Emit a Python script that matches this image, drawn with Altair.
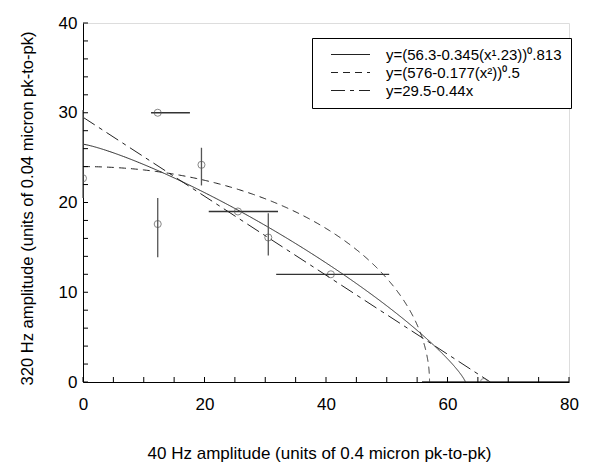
import altair as alt
import numpy as np
import pandas as pd

# measured points (x, y) with error bar extents
pt_x = [0.0, 12.3, 12.3, 19.5, 25.5, 30.5, 40.8, 66.0]
pt_y = [22.7, 30.0, 17.6, 24.2, 19.0, 16.1, 12.0, 0.0]
# vertical error bars (x, y_low, y_high)
vx = [0.0, 12.3, 19.5, 30.5]
vlo = [20.5, 13.9, 21.9, 14.1]
vhi = [30.3, 20.5, 26.1, 18.8]
# horizontal error bars (y, x_low, x_high)
hy = [30.0, 19.0, 12.0, 0.0]
hlo = [11.2, 20.7, 31.8, 55.8]
hhi = [17.6, 32.1, 50.4, 80.0]

labels = ["y=(56.3-0.345(x\u00b9.23))\u2070.813",
          "y=(576-0.177(x\u00b2))\u2070.5",
          "y=29.5-0.44x"]
# fit coefficients from the legend
c1 = [56.3, 0.345, 1.23, 0.813]
c2 = [576.0, 0.177, 2.0, 0.5]
c3 = [29.5, 0.44]

x_ticks = list(range(0, 81, 5))
y_ticks = list(range(0, 41, 2))

def curve(a, b, p, q, name):
    xz = (a / b) ** (1.0 / p)
    t = np.linspace(0, 1, 600)
    xs = xz * (1 - (1 - t) ** 3)
    ys = np.clip(a - b * xs ** p, 0, None) ** q
    return pd.DataFrame({"x": xs, "y": ys, "fit": name, "order": np.arange(len(xs))})

xz3 = c3[0] / c3[1]
df3 = pd.DataFrame({"x": [0, xz3], "y": [c3[0], 0], "fit": labels[2], "order": [0, 1]})
curves = pd.concat([curve(*c1, labels[0]), curve(*c2, labels[1]), df3])

pts = pd.DataFrame({"x": pt_x, "y": pt_y})
vbars = pd.DataFrame({"x": vx, "lo": vlo, "hi": vhi})
hbars = pd.DataFrame({"y": hy, "lo": hlo, "hi": hhi})

W, H = 486, 359
xs = alt.Scale(domain=[0, 80], nice=False)
ys = alt.Scale(domain=[0, 40], nice=False)
font = "Liberation Sans"

xaxis = alt.Axis(values=[0, 20, 40, 60, 80], ticks=False, grid=False, labelFontSize=17,
                 labelPadding=14, domainColor="black", labelColor="black", labelFont=font,
                 title="40 Hz amplitude (units of 0.4 micron pk-to-pk)", titleFont=font,
                 titleFontSize=17, titleFontWeight="normal", titleX=236, titleY=71,
                 titleAnchor="middle", titleAlign="center", titleBaseline="middle",
                 titleColor="black", labelFlush=False)
yaxis = alt.Axis(values=[0, 10, 20, 30, 40], ticks=False, grid=False, labelFontSize=17,
                 labelPadding=6, domainColor="black", labelColor="black", labelFont=font,
                 title="320 Hz amplitude (units of 0.04 micron pk-to-pk)", titleFont=font,
                 titleFontSize=16.6, titleFontWeight="normal", titleX=-56, titleY=185,
                 titleAngle=-90, titleAlign="center", titleBaseline="middle",
                 titleColor="black", labelFlush=False)

lines = alt.Chart(curves).mark_line(color="#222", strokeWidth=1, clip=True).encode(
    x=alt.X("x:Q", scale=xs, axis=xaxis),
    y=alt.Y("y:Q", scale=ys, axis=yaxis),
    order="order:Q",
    strokeDash=alt.StrokeDash("fit:N", scale=alt.Scale(domain=labels,
                              range=[[1, 0], [7, 5], [14, 5, 4, 5]]),
                              legend=alt.Legend(title=None, orient="none", legendX=229, legendY=15,
                                                strokeColor="black", fillColor="white",
                                                padding=9, symbolType="M-3,0H3", symbolSize=169,
                                                symbolStrokeColor="#222", symbolStrokeWidth=1,
                                                labelFontSize=15, labelFont=font, labelColor="black",
                                                labelOffset=28, rowPadding=2, labelLimit=400,
                                                symbolOffset=22)),
)

vb = alt.Chart(vbars).mark_rule(color="#555", strokeWidth=1.3).encode(
    x="x:Q", y="lo:Q", y2="hi:Q")
hb = alt.Chart(hbars).mark_rule(color="#333", strokeWidth=1.3, clip=True).encode(
    y="y:Q", x="lo:Q", x2="hi:Q")
points = alt.Chart(pts).mark_point(shape="circle", filled=False, color="#555", size=50,
                                   strokeWidth=1, clip=True).encode(x="x:Q", y="y:Q")

yt = alt.Chart(pd.DataFrame({"v": y_ticks})).mark_rule(color="black").encode(
    y=alt.Y("v:Q", scale=ys), x=alt.value(0), x2=alt.value(5))
xt = alt.Chart(pd.DataFrame({"v": x_ticks})).mark_rule(color="black").encode(
    x=alt.X("v:Q", scale=xs), y=alt.value(H), y2=alt.value(H - 5))

chart = alt.layer(lines, hb, vb, points, yt, xt).properties(
    width=W, height=H,
    autosize=alt.AutoSizeParams(type="none"),
    padding={"left": 75, "top": 15, "right": 10, "bottom": 80},
).configure_view(stroke="black", strokeWidth=1).configure(background="white")

chart.save("out.html", embed_options={"renderer": "svg", "actions": False})
